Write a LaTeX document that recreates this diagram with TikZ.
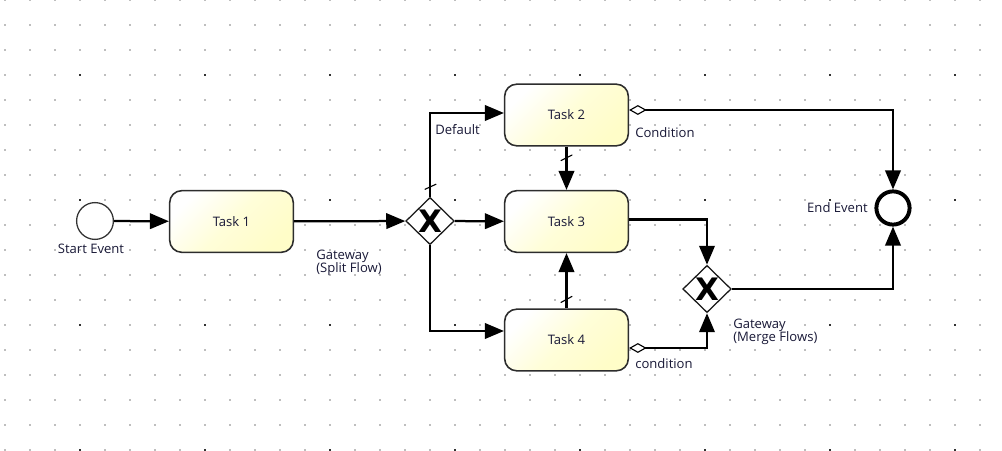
\documentclass[tikz,border=0pt]{standalone}
\usepackage{fontspec}
\setmainfont{Open Sans}
\newfontfamily\xfont{DejaVu Sans}
\usetikzlibrary{shapes.geometric,arrows.meta,calc}
\definecolor{taskfill}{RGB}{255,253,200}
\definecolor{taskline}{RGB}{45,45,45}
\definecolor{labelink}{RGB}{25,25,55}
\definecolor{dotgrey}{RGB}{190,190,190}
\definecolor{dotdark}{RGB}{50,50,50}
\tikzset{
  flow/.style={
    line width=1.6pt,
    draw=black,
    -{Triangle[length=13.5pt,width=11pt]}
  },
  flow-cond/.style={
    flow,
    {Diamond[fill=white,length=12.5pt,width=7pt,line width=0.8pt]}-{Triangle[length=13.5pt,width=11pt]}
  },
  default-tick/.style={line width=0.8pt, line cap=round},
  task-box/.style={rectangle, rounded corners=0.3cm, draw=taskline, line width=1.1pt,
    top color=white, bottom color=taskfill, middle color=taskfill!70!white, shading angle=45,
    minimum width=3.09cm, minimum height=1.54cm, text=labelink,
    font=\fontsize{9.3}{9.3}\selectfont},
  gateway-x/.style={diamond, draw=black!90, line width=0.9pt, fill=white,
    minimum width=1.21cm, minimum height=1.18cm, inner sep=0pt,
    label={[font=\fontsize{22}{22}\xfont\bfseries]center:X}},
  event-start/.style={circle, draw=black!80, line width=0.9pt, fill=white, minimum size=0.92cm, inner sep=0pt},
  event-end/.style={circle, draw=black, line width=2.8pt, fill=white, minimum size=0.83cm, inner sep=0pt},
  lbl/.style={text=labelink, font=\fontsize{9.3}{9.3}\selectfont, inner sep=0pt, text height=1.5ex, text depth=.25ex},
  lbl-two/.style={text=labelink, font=\fontsize{9.3}{9.3}\selectfont, inner sep=0pt, align=left}
}
\newcommand{\griddots}{
  \useasboundingbox (0,0) rectangle (1002,451);
  \foreach \gx in {5,30,...,980}{
    \foreach \gy in {0,25,...,450}{
      \fill[dotgrey] (\gx-0.8,\gy-0.8) rectangle ++(1.6,1.6);
    }
  }
  \foreach \gx in {80,205,...,955}{
    \foreach \gy in {75,200,...,450}{
      \fill[dotdark] (\gx-0.9,\gy-0.9) rectangle ++(1.8,1.8);
    }
  }
}

\begin{document}
\begin{tikzpicture}[x=0.025cm,y=-0.025cm]
  \griddots
  % events and tasks
  \node[event-start] (se) at (95,221) {};
  \node[task-box] (t1) at (231.5,221.5) {Task 1};
  \node[gateway-x] (gs) at (430,221) {};
  \node[task-box] (t2) at (566.5,115) {Task 2};
  \node[task-box] (t3) at (566.5,221.5) {Task 3};
  \node[task-box] (t4) at (566.5,340) {Task 4};
  \node[gateway-x] (gm) at (707,289) {};
  \node[event-end] (ee) at (893,208) {};
  % labels
  \node[lbl] (se-text) at (91,249) {Start Event};
  \node[lbl-two, anchor=west] (gs-text) at (316,263) {Gateway\\(Split Flow)};
  \node[lbl, anchor=west] (def-text) at (435,130) {Default};
  \node[lbl, anchor=west] (cond-top) at (635,133) {Condition};
  \node[lbl, anchor=west] (cond-bot) at (635,364) {condition};
  \node[lbl, anchor=east] (ee-text) at (868,208) {End Event};
  \node[lbl-two, anchor=west] (gm-text) at (733,331.5) {Gateway\\(Merge Flows)};
  % sequence flows
  \draw[flow] (se) -- (t1);
  \draw[flow] (t1) -- (gs);
  \draw[flow] (gs) |- ($(t2.west)+(0,-2)$);
  \draw[flow] (gs) -- (t3);
  \draw[flow] (gs) |- ($(t4.west)+(0,-9)$);
  \draw[flow] (t2) -- (t3);
  \draw[flow] (t4) -- (t3);
  \draw[flow] ($(t3.east)+(0,-2)$) -| (gm);
  \draw[flow] (gm) -| (ee);
  % conditional flows
  \draw[flow-cond] ($(t2.east)+(0,-5)$) -| (ee);
  \draw[flow-cond] ($(t4.east)+(0,8)$) -| (gm);
  % default markers
  \draw[default-tick] ($(gs.north)+(-5,-7.5)$) -- ++(11,-5);
  \draw[default-tick] ($(t2.south)+(-5.5,14)$) -- ++(11,-5.5);
  \draw[default-tick] ($(t4.north)+(-5.5,-6)$) -- ++(11,-6);
\end{tikzpicture}
\end{document}
